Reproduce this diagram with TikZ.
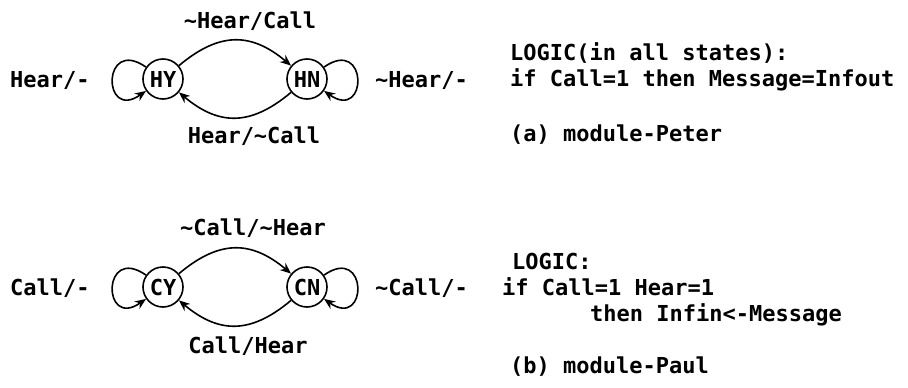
\documentclass[tikz,border=0pt]{standalone}
\usepackage{fontspec}
\setmonofont{DejaVu Sans Mono}
\usetikzlibrary{arrows.meta}
\begin{document}
\begin{tikzpicture}[x=1pt,y=1pt,
  every node/.style={font=\ttfamily\bfseries\fontsize{22}{26}\selectfont},
  state/.style={circle,draw,line width=1.6pt,minimum size=40pt,inner sep=0pt},
  lbl/.style={inner sep=0pt,anchor=base west},
  clbl/.style={inner sep=0pt,anchor=base},
  trans/.style={line width=1.6pt,-{Stealth[length=11pt,width=9pt]}},
  selfloop/.style={trans,looseness=5.8}]
\useasboundingbox (0,0) rectangle (908,-388);
\newcommand{\tld}{\textasciitilde}

% module Peter
\node[state] (HY) at (163,-79) {HY};
\node[state] (HN) at (307,-79) {HN};
\draw[trans] (HY) to[out=40,in=140,looseness=1.2] (HN);
\draw[trans] (HN) to[out=220,in=-40,looseness=1.2] (HY);
\draw[selfloop] (HY.145) to[out=145,in=215] (HY.215);
\draw[selfloop] (HN.35) to[out=35,in=-35] (HN.-35);
\node[clbl] (t1) at (250,-28) {\tld Hear/Call};
\node[clbl] (t2) at (254,-143) {Hear/\tld Call};
\node[lbl] (l1) at (10,-87) {Hear/-};
\node[lbl] (l2) at (375,-87) {\tld Hear/-};
\node[lbl] (p1) at (510,-60) {LOGIC(in all states):};
\node[lbl] (p2) at (510,-86) {if Call=1 then Message=Infout};
\node[lbl] (p3) at (510,-141) {(a) module-Peter};

% module Paul
\node[state] (CY) at (163,-287) {CY};
\node[state] (CN) at (307,-287) {CN};
\draw[trans] (CY) to[out=40,in=140,looseness=1.2] (CN);
\draw[trans] (CN) to[out=220,in=-40,looseness=1.2] (CY);
\draw[selfloop] (CY.145) to[out=145,in=215] (CY.215);
\draw[selfloop] (CN.35) to[out=35,in=-35] (CN.-35);
\node[clbl] (u1) at (253,-235) {\tld Call/\tld Hear};
\node[clbl] (u2) at (248,-353) {Call/Hear};
\node[lbl] (m1) at (10,-295) {Call/-};
\node[lbl] (m2) at (375,-295) {\tld Call/-};
\node[lbl] (q1) at (512,-269) {LOGIC:};
\node[lbl] (q2) at (502,-295) {if Call=1 Hear=1};
\node[lbl] (q3) at (590,-321) {then Infin<-Message};
\node[lbl] (q4) at (510,-373) {(b) module-Paul};
\end{tikzpicture}
\end{document}
